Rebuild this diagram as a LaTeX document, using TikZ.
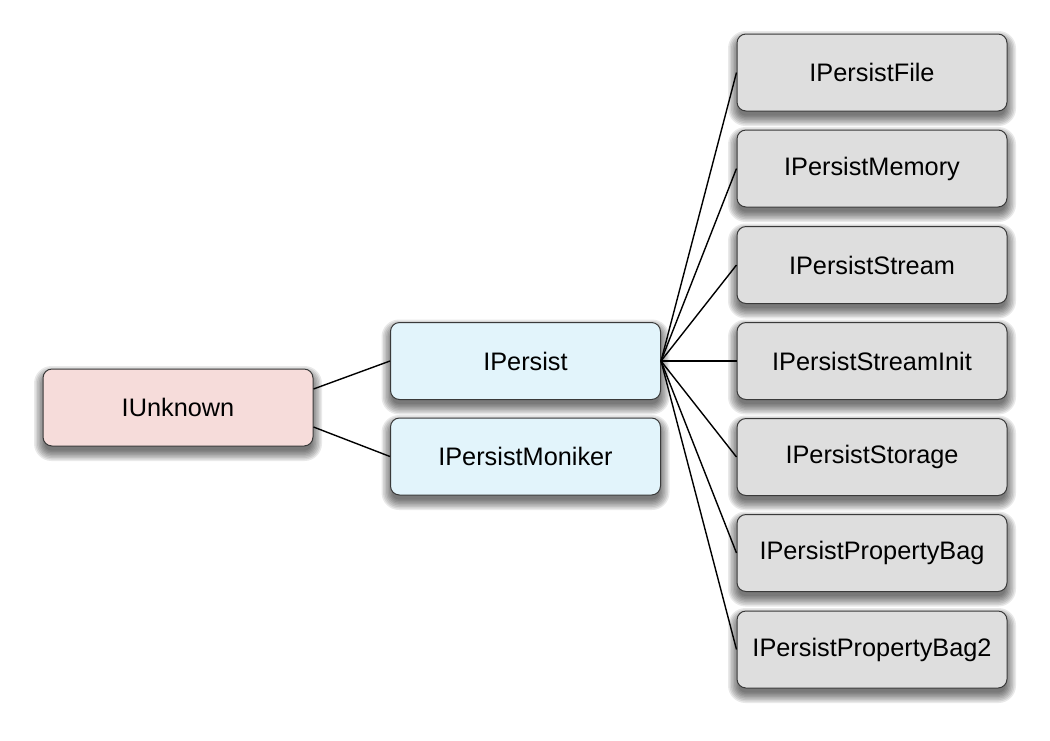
\documentclass[tikz,border=0pt]{standalone}
\usepackage{fontspec}
\setmainfont{Liberation Sans}
\pgfdeclarelayer{bg}
\pgfdeclarelayer{shade}
\pgfsetlayers{bg,shade,main}
\definecolor{pinkfill}{HTML}{F6DCDA}
\definecolor{bluefill}{HTML}{E2F4FB}
\definecolor{greyfill}{HTML}{DEDEDE}
\definecolor{edgecol}{HTML}{3A3A3A}
\tikzset{
  box/.style={draw=edgecol, line width=1pt, rounded corners=9pt,
    minimum width=270pt, minimum height=77pt, inner sep=0pt,
    font=\fontsize{25.3}{30}\selectfont},
  rootbox/.style={box, fill=pinkfill},
  midbox/.style={box, fill=bluefill},
  leafbox/.style={box, fill=greyfill},
  link/.style={draw=black, line width=1.4pt},
  shadelayer/.style={fill=black, opacity=0.085}
}
\begin{document}
\begin{tikzpicture}[x=1pt,y=-1pt]
\begin{pgfonlayer}{bg}
\fill[white] (0,0) rectangle (1050,740);
\end{pgfonlayer}
\useasboundingbox (0,0) rectangle (1050,740);
\node[rootbox] (u) at (178,407.5) {IUnknown};
\node[midbox] (p) at (525.5,361) {IPersist};
\node[midbox] (pm) at (525.5,456.5) {IPersistMoniker};
\node[leafbox] (f) at (872,72.5) {IPersistFile};
\node[leafbox] (m) at (872,168.5) {IPersistMemory};
\node[leafbox] (s) at (872,265) {IPersistStream};
\node[leafbox] (si) at (872,361) {IPersistStreamInit};
\node[leafbox] (st) at (872,457) {IPersistStorage};
\node[leafbox] (pb) at (872,553) {IPersistPropertyBag};
\node[leafbox] (pb2) at (872,649.5) {IPersistPropertyBag2};
\begin{pgfonlayer}{shade}
\foreach \n in {u,p,pm,f,m,s,si,st,pb,pb2}{
  \foreach \e in {-2,-0.5,1,2.5,4,5.5,7,8.5}{
    \pgfmathsetmacro{\rc}{max(9+\e,2)}
    \fill[shadelayer, rounded corners=\rc pt]
      ([xshift=-\e pt, yshift={-6pt-\e pt}]\n.south west)
      rectangle ([xshift=\e pt, yshift={-6pt+\e pt}]\n.north east);
  }
}
\end{pgfonlayer}
\draw[link] ([yshift=18.5pt]u.east) -- (p.west);
\draw[link] ([yshift=-19.5pt]u.east) -- (pm.west);
\foreach \t in {f,m,s,si,st,pb,pb2}
  \draw[link] (p.east) -- (\t.west);
\end{tikzpicture}
\end{document}
